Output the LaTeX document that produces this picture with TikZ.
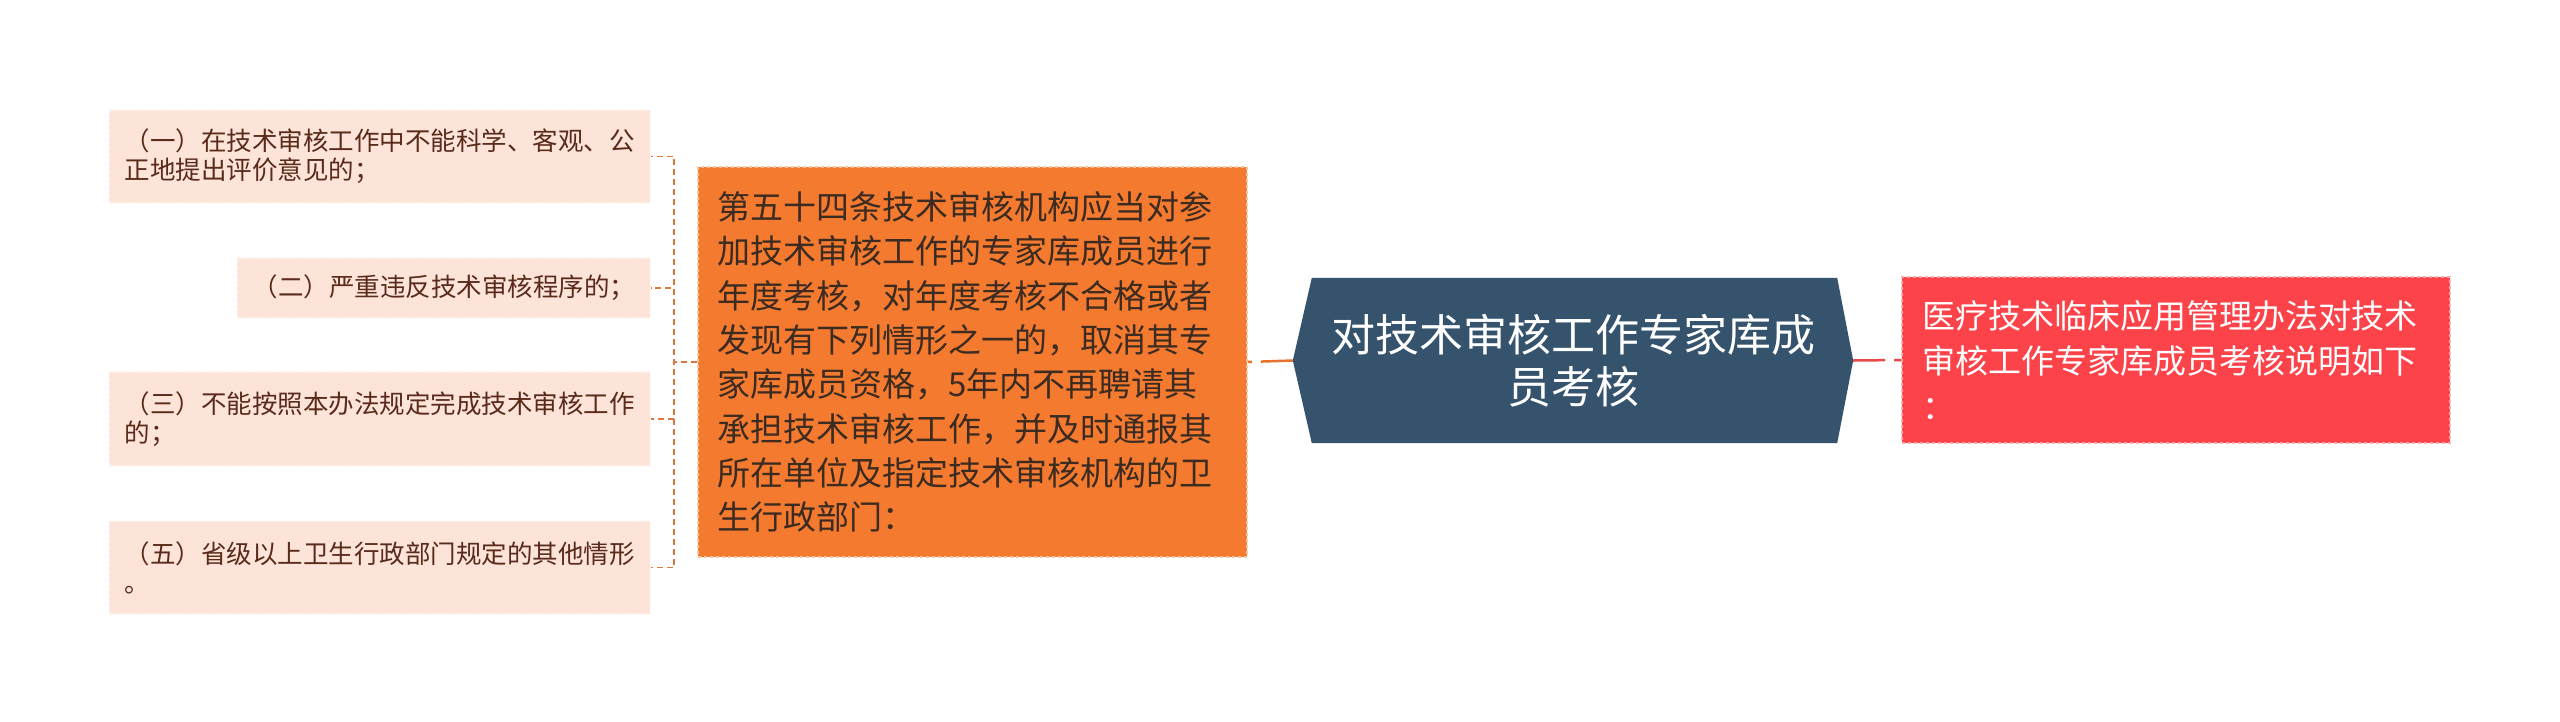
\documentclass[tikz,border=0pt]{standalone}
\usepackage{fontspec}
\newfontfamily\cjk{Noto Sans CJK SC}
\usetikzlibrary{positioning}
\definecolor{leaffill}{HTML}{FCE4D8}
\definecolor{leaftext}{HTML}{5A2A1A}
\definecolor{leafline}{HTML}{D9773F}
\definecolor{rulefill}{HTML}{F47A30}
\definecolor{ruletext}{HTML}{3B2B20}
\definecolor{ruleline}{HTML}{E8712B}
\definecolor{rootfill}{HTML}{36536E}
\definecolor{notefill}{HTML}{FC4349}
\definecolor{noteline}{HTML}{E9484B}
\tikzset{
  leaf/.style={fill=leaffill,draw=leaffill!40!white,dashed,line width=1.2pt,
    text=leaftext,font=\cjk\fontsize{25.5}{29}\selectfont,align=left,
    inner xsep=15pt,inner ysep=0pt,anchor=east},
  rulebox/.style={fill=rulefill,draw=rulefill!45!white,dashed,line width=1.5pt,
    text=ruletext,font=\cjk\fontsize{33}{44.3}\selectfont,align=left,
    text width=511pt,inner xsep=19pt,inner ysep=0pt,minimum height=390pt},
  notebox/.style={fill=notefill,draw=notefill!45!white,dashed,line width=1.5pt,
    text=white,font=\cjk\fontsize{33}{45.5}\selectfont,align=left,
    text width=508pt,inner xsep=20pt,inner ysep=0pt,minimum height=166pt},
  leaflink/.style={draw=leafline,line width=1.8pt,dash pattern=on 6pt off 4pt},
  link/.style={line width=2.5pt,dash pattern=on 32pt off 9pt},
}
\begin{document}
\begin{tikzpicture}[x=1pt,y=-1pt]
\useasboundingbox (0,0) rectangle (2560,721);
% central topic, hexagon drawn round its node
\node[minimum width=560pt,minimum height=165pt,inner sep=0pt] (root) at (1573,360.5) {};
\fill[rootfill] (root.west) -- ([xshift=19pt]root.north west) -- ([xshift=-16pt]root.north east)
  -- (root.east) -- ([xshift=-16pt]root.south east) -- ([xshift=19pt]root.south west) -- cycle;
\node[text=white,font=\cjk\fontsize{44}{52}\selectfont,align=center] at (root.center)
  {对技术审核工作专家库成\\员考核};
\node[rulebox] (rule) at (972.5,362) {第五十四条技术审核机构应当对参\\加技术审核工作的专家库成员进行\\年度考核，对年度考核不合格或者\\发现有下列情形之一的，取消其专\\家库成员资格，5年内不再聘请其\\承担技术审核工作，并及时通报其\\所在单位及指定技术审核机构的卫\\生行政部门：};
\node[notebox] (note) at (2176,360) {医疗技术临床应用管理办法对技术\\审核工作专家库成员考核说明如下\\：};
% the four cases
\node[leaf,minimum width=541pt,minimum height=93pt] (leaf1) at (651,156.5) {（一）在技术审核工作中不能科学、客观、公\\正地提出评价意见的；};
\node[leaf,minimum width=413pt,minimum height=60pt] (leaf2) at (651,288) {（二）严重违反技术审核程序的；};
\node[leaf,minimum width=541pt,minimum height=94pt] (leaf3) at (651,419) {（三）不能按照本办法规定完成技术审核工作\\的；};
\node[leaf,minimum width=541pt,minimum height=93pt] (leaf4) at (651,567.5) {（五）省级以上卫生行政部门规定的其他情形\\。};
% connectors
\draw[link,draw=ruleline] (root.west) -- (rule.east);
\draw[link,draw=noteline] (root.east) -- (note.west);
\foreach \n in {1,...,4}
  \draw[leaflink] (rule.west) -- ++(-23,0) |- (leaf\n.east); % tree to each case
\end{tikzpicture}
\end{document}
